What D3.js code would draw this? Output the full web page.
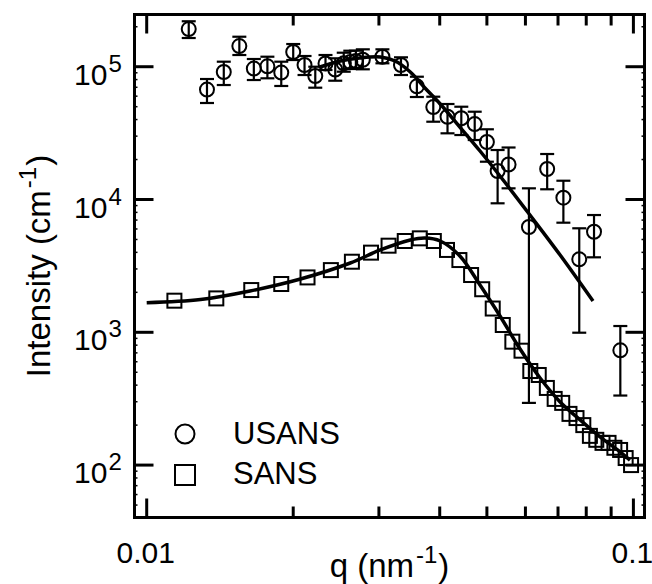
<!DOCTYPE html>
<html>
    <head>
        <meta charset="utf-8">
        <script src="https://cdn.jsdelivr.net/npm/d3@7"></script>
        <style>
            body { margin: 0; background: white; }
            text { font-family: "Liberation Sans", Arial, sans-serif; fill: black; }
        </style>
        <script>
            // USANS points: q, intensity, error bar ends
            var usansQ  = [0.0122, 0.0133, 0.0144, 0.0155, 0.0166, 0.0177, 0.0189, 0.0200, 0.0211, 0.0222, 0.0233, 0.0244, 0.0254, 0.0262, 0.0269, 0.0278,
                           0.0305, 0.0333, 0.0359, 0.0388, 0.0415, 0.0443, 0.0472, 0.0500, 0.0526, 0.0554, 0.0610, 0.0665, 0.0718, 0.0774, 0.0830, 0.0940];
            var usansI  = [192000, 67300, 91200, 143000, 96900, 100700, 90400, 129000, 103000, 85100, 105700, 95300, 106100, 108500, 110400, 112900,
                           118900, 103000, 71200, 49700, 42000, 40900, 37000, 27100, 16400, 18350, 6210, 16970, 10320, 3545, 5720, 732];
            var usansHi = [219900, 80800, 109100, 168200, 114300, 118950, 109100, 148200, 120400, 100000, 122500, 115700, 127500, 132000, 132000, 135200,
                           135200, 117700, 84070, 59450, 52380, 49970, 45830, 33790, 23590, 24640, 12140, 22010, 13850, 6070, 7640, 1115];
            var usansLo = [164500, 53300, 72800, 122500, 79400, 81800, 71600, 112300, 86600, 69500, 94450, 78450, 91700, 96100, 97800, 95600,
                           106100, 86600, 59140, 38530, 31510, 30590, 28050, 19260, 9363, 12140, 294, 11940, 6690, 993, 3670, 334];

            // USANS fit curve
            var usansFitQ = [0.0227, 0.0250, 0.0274, 0.0302, 0.0324, 0.0348, 0.0373, 0.0401, 0.0440, 0.0484, 0.0532, 0.0613, 0.0707, 0.0826];
            var usansFitI = [99500, 110400, 116300, 118300, 110400, 91200, 69100, 52400, 35150, 23190, 15030, 7640, 3820, 1720];

            // SANS points
            var sansQ = [0.0114, 0.0139, 0.0164, 0.0189, 0.0214, 0.0239, 0.0264, 0.0289, 0.0314, 0.0339, 0.0364, 0.0389, 0.0414, 0.0439, 0.0464, 0.0489, 0.0514, 0.0539,
                         0.0564, 0.0589, 0.0614, 0.0639, 0.0664, 0.0689, 0.0714, 0.0739, 0.0764, 0.0789, 0.0814, 0.0839, 0.0864, 0.0889, 0.0914, 0.0939, 0.0964, 0.0989];
            var sansI = [1730, 1800, 2080, 2310, 2590, 2940, 3400, 3980, 4490, 4870, 5100, 4870, 4170, 3500, 2700, 2110, 1510, 1135,
                         850, 727, 511, 477, 381, 315, 294, 243, 226, 200, 166, 155, 147, 147, 135, 130, 113, 100];

            // SANS fit curve
            var sansFitQ = [0.0100, 0.0129, 0.0163, 0.0207, 0.0262, 0.0302, 0.0348, 0.0373, 0.0401, 0.0440, 0.0484, 0.0532, 0.0585, 0.0643, 0.0707, 0.0777, 0.0854, 0.0939, 0.0984];
            var sansFitI = [1671, 1766, 2046, 2519, 3325, 4168, 4955, 5129, 4870, 3753, 2270, 1327, 748, 453, 299, 219, 163, 126, 109];

            var xMajor = [0.01, 0.1];
            var xMajorLabels = ["0.01", "0.1"];
            var xMinor = [0.02, 0.03, 0.04, 0.05, 0.06, 0.07, 0.08, 0.09];
            var yMajor = [1e2, 1e3, 1e4, 1e5];
            var yMajorExp = ["2", "3", "4", "5"];

            function makeSVG() {
                var svg = d3.select("body").append("svg")
                                           .attr("width", 652)
                                           .attr("height", 584);

                const left = 134.5, right = 644.5, top = 14.5, bottom = 517.5;

                var x = d3.scaleLog().domain([0.009439, 0.10539]).range([left, right]);
                var y = d3.scaleLog().domain([40.3, 247300]).range([bottom, top]);

                var yMinor = [];
                yMajor.forEach(function (m) {
                    for (var k = 2; k < 10; k++) {
                        if (m * k < y.domain()[1]) yMinor.push(m * k);
                    }
                });
                [5, 6, 7, 8, 9].forEach(k => yMinor.push(10 * k));

                // ticks (inward)
                var tk = svg.append("g").attr("stroke", "black").attr("stroke-width", 3);

                tk.selectAll("line.xb").data(xMajor.concat(xMinor)).enter().append("line")
                  .attr("x1", d => x(d)).attr("x2", d => x(d))
                  .attr("y1", bottom).attr("y2", d => bottom - (xMajor.includes(d) ? 19 : 11));
                tk.selectAll("line.xt").data(xMajor.concat(xMinor)).enter().append("line")
                  .attr("x1", d => x(d)).attr("x2", d => x(d))
                  .attr("y1", top).attr("y2", d => top + (xMajor.includes(d) ? 19 : 11));
                tk.selectAll("line.yl").data(yMajor).enter().append("line")
                  .attr("y1", d => y(d)).attr("y2", d => y(d))
                  .attr("x1", left).attr("x2", left + 19);
                tk.selectAll("line.yr").data(yMajor).enter().append("line")
                  .attr("y1", d => y(d)).attr("y2", d => y(d))
                  .attr("x1", right).attr("x2", right - 19);

                var mk = svg.append("g").attr("stroke", "black").attr("stroke-width", 1.5);
                mk.selectAll("line.yl").data(yMinor).enter().append("line")
                  .attr("y1", d => y(d)).attr("y2", d => y(d))
                  .attr("x1", left).attr("x2", left + 3);
                mk.selectAll("line.yr").data(yMinor).enter().append("line")
                  .attr("y1", d => y(d)).attr("y2", d => y(d))
                  .attr("x1", right).attr("x2", right - 3);

                // frame
                svg.append("rect")
                   .attr("x", left).attr("y", top)
                   .attr("width", right - left).attr("height", bottom - top)
                   .attr("fill", "none").attr("stroke", "black").attr("stroke-width", 3);

                // tick labels
                svg.append("g").selectAll("text").data(xMajor).enter().append("text")
                   .attr("x", d => x(d) - 1).attr("y", 563)
                   .attr("text-anchor", "middle").attr("font-size", "30px")
                   .text((d, i) => xMajorLabels[i]);

                var yl = svg.append("g").selectAll("text").data(yMajor).enter().append("text")
                            .attr("x", 74).attr("y", d => y(d) + 18)
                            .attr("font-size", "30px");
                yl.append("tspan").text("10");
                yl.append("tspan").attr("font-size", "24px").attr("dy", -13).attr("dx", 1)
                  .text((d, i) => yMajorExp[i]);

                // axis titles
                var xt = svg.append("text").attr("x", (left + right) / 2).attr("y", 577)
                            .attr("text-anchor", "middle").attr("font-size", "33px");
                xt.append("tspan").text("q (nm");
                xt.append("tspan").attr("font-size", "24px").attr("dy", -14).attr("dx", 2).text("-1");
                xt.append("tspan").attr("dy", 14).attr("dx", 1).text(")");

                var yt = svg.append("text")
                            .attr("transform", "translate(50," + (top + bottom) / 2 + ") rotate(-90)")
                            .attr("text-anchor", "middle").attr("font-size", "33px");
                yt.append("tspan").text("Intensity (cm");
                yt.append("tspan").attr("font-size", "24px").attr("dy", -14).attr("dx", 2).text("-1");
                yt.append("tspan").attr("dy", 14).attr("dx", 1).text(")");

                // fit lines
                var line = d3.line().x(d => x(d[0])).y(d => y(d[1])).curve(d3.curveCatmullRom.alpha(0.5));
                svg.append("path")
                   .attr("d", line(sansFitQ.map((q, i) => [q, sansFitI[i]])))
                   .attr("fill", "none").attr("stroke", "black").attr("stroke-width", 3.5);
                svg.append("path")
                   .attr("d", line(usansFitQ.map((q, i) => [q, usansFitI[i]])))
                   .attr("fill", "none").attr("stroke", "black").attr("stroke-width", 3.5);

                // USANS error bars
                var usans = usansQ.map((q, i) => ({ q: q, v: usansI[i], hi: usansHi[i], lo: usansLo[i] }));
                var eb = svg.append("g").attr("stroke", "black").attr("stroke-width", 2.2);
                eb.selectAll("line.v").data(usans).enter().append("line")
                  .attr("x1", d => x(d.q)).attr("x2", d => x(d.q))
                  .attr("y1", d => y(d.hi)).attr("y2", d => y(d.lo));
                eb.selectAll("line.h").data(usans).enter().append("line")
                  .attr("x1", d => x(d.q) - 7).attr("x2", d => x(d.q) + 7)
                  .attr("y1", d => y(d.hi)).attr("y2", d => y(d.hi));
                eb.selectAll("line.l").data(usans).enter().append("line")
                  .attr("x1", d => x(d.q) - 7).attr("x2", d => x(d.q) + 7)
                  .attr("y1", d => y(d.lo)).attr("y2", d => y(d.lo));

                svg.append("g").selectAll("circle").data(usans).enter().append("circle")
                   .attr("cx", d => x(d.q)).attr("cy", d => y(d.v)).attr("r", 7)
                   .attr("fill", "none").attr("stroke", "black").attr("stroke-width", 2);

                // SANS squares
                svg.append("g").selectAll("rect").data(sansQ).enter().append("rect")
                   .attr("x", d => x(d) - 7).attr("y", (d, i) => y(sansI[i]) - 7)
                   .attr("width", 14).attr("height", 14)
                   .attr("fill", "none").attr("stroke", "black").attr("stroke-width", 2);

                // legend
                var lg = svg.append("g");
                lg.append("circle").attr("cx", 185).attr("cy", 434).attr("r", 9.5)
                  .attr("fill", "none").attr("stroke", "black").attr("stroke-width", 2);
                lg.append("rect").attr("x", 175).attr("y", 465).attr("width", 20).attr("height", 20)
                  .attr("fill", "none").attr("stroke", "black").attr("stroke-width", 2);
                lg.append("text").attr("x", 233).attr("y", 444).attr("font-size", "31px").text("USANS");
                lg.append("text").attr("x", 233).attr("y", 484).attr("font-size", "31px").text("SANS");
            }
        </script>
    </head>
    <body onload="makeSVG()">
    </body>
</html>
